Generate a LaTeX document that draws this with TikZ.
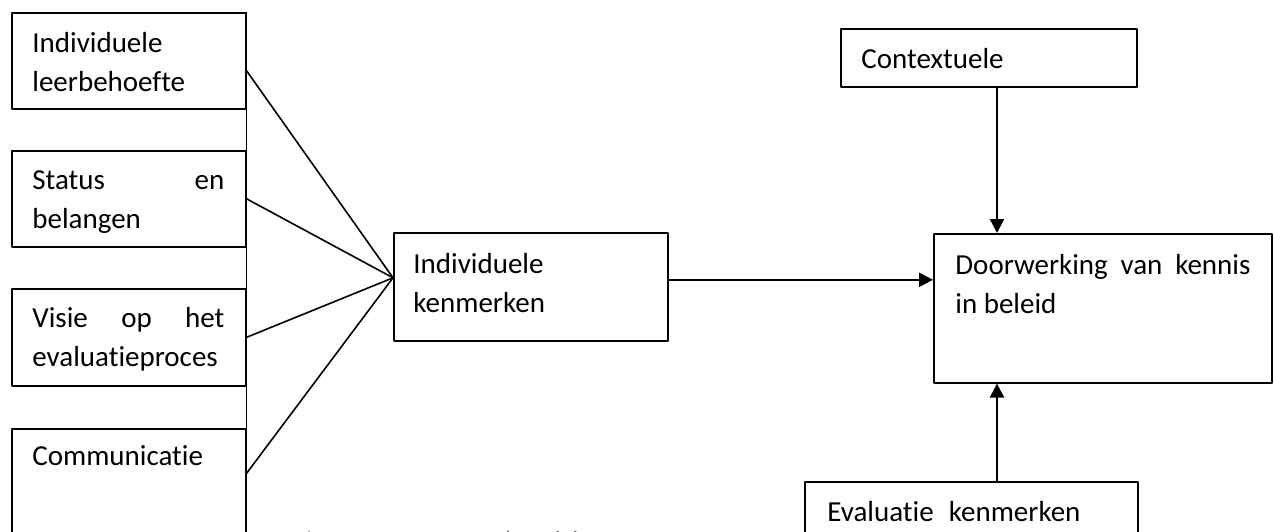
\documentclass[tikz,border=0pt]{standalone}
\usepackage{fontspec}
\setmainfont{Carlito}[Ligatures=NoCommon]
\usetikzlibrary{arrows.meta}
\begin{document}
\begin{tikzpicture}[x=0.5pt, y=-0.5pt, line join=round,
    font=\fontsize{14.5pt}{19.5pt}\selectfont,
    box/.style={draw, line width=0.8pt, anchor=north west, inner sep=0pt},
    txt/.style={anchor=base west, inner sep=0pt, align=left},
    link/.style={line width=0.8pt},
    arr/.style={line width=1.2pt, -{Triangle[length=7pt,width=7pt]}}]
    \useasboundingbox (0,0) rectangle (1274,531);
    \clip (0,0) rectangle (1274,531);
    % left column
    \node[box, minimum width=117pt, minimum height=48pt] (need) at (11,12) {};
    \node[box, minimum width=117pt, minimum height=48pt] (status) at (11,150) {};
    \node[box, minimum width=117pt, minimum height=48.5pt] (visie) at (11,288) {};
    \node[box, minimum width=117pt, minimum height=58.5pt] (comm) at (11,428) {};
    \draw[link] (need.north east) -- (comm.south east);
    \node[txt] (needtxt) at (32,91) {Individuele\\leerbehoefte};
    \node[txt] (statustxt) at (32,228) {\makebox[96pt][s]{Status\hfill en}\\belangen};
    \node[txt] (visietxt) at (32,366) {\makebox[96pt][s]{Visie\hfill op\hfill het}\\evaluatieproces};
    \node[txt] (commtxt) at (32,465) {Communicatie};
    % middle
    \node[box, minimum width=137pt, minimum height=54pt] (kenm) at (393,232) {};
    \node[txt] (kenmtxt) at (413,312) {Individuele\\kenmerken};
    \coordinate (hub) at ([shift={(0,-9)}]kenm.west);
    \draw[link] ([shift={(0,10)}]need.east) -- (hub);
    \draw[link] (status.east) -- (hub);
    \draw[link] (visie.east) -- (hub);
    \draw[link] ([shift={(0,-14)}]comm.east) -- (hub);
    % right
    \node[box, minimum width=169pt, minimum height=74.5pt] (doorw) at (933,233) {};
    \node[txt] (doorwtxt) at (955,313) {\makebox[147.5pt][s]{Doorwerking\hfill van\hfill kennis}\\in beleid};
    \node[box, minimum width=148pt, minimum height=29pt] (context) at (840,28) {};
    \node[txt] (contexttxt) at (861,68) {Contextuele};
    \node[box, minimum width=166.5pt, minimum height=45pt] (evalu) at (804,481) {};
    \node[txt] (evalutxt) at (827,521) {\makebox[126.5pt][s]{Evaluatie\hfill kenmerken}};
    \coordinate (k) at ([shift={(0,-7)}]kenm.east);
    \draw[arr] (k) -- (k -| doorw.west);
    \coordinate (ax) at (997,0);
    \draw[arr] (ax |- context.south) -- (ax |- doorw.north);
    \draw[arr] (ax |- evalu.north) -- (ax |- doorw.south);
    % caption
    \node[txt, font=\fontsize{12pt}{14pt}\selectfont] (caption) at (295,548) {Figuur 2: Conceptueel model};
\end{tikzpicture}
\end{document}
